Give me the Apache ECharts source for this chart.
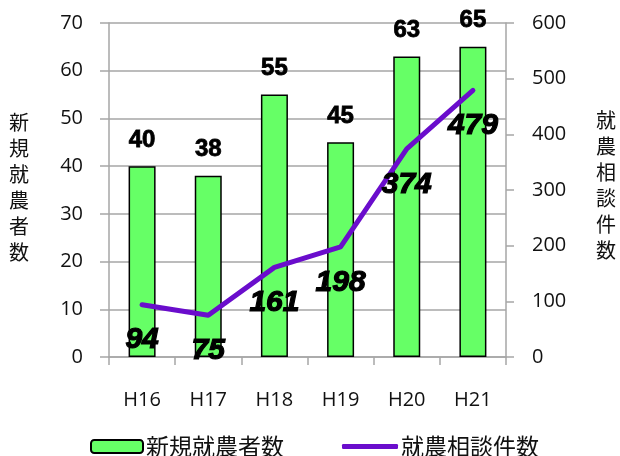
<!DOCTYPE html>
<html>
<head>
<meta charset="utf-8">
<script src="https://cdn.jsdelivr.net/npm/echarts@6/dist/echarts.min.js"></script>
<style>
  html, body { margin: 0; padding: 0; background: #fff; }
  #chart { width: 620px; height: 456px; }
</style>
</head>
<body>
<div id="chart"></div>
<script>
// Fiscal years (Heisei era)
const years = ['H16', 'H17', 'H18', 'H19', 'H20', 'H21'];
// New farmers per year (bars, left axis)
const newFarmers = [40, 38, 55, 45, 63, 65];
// Farming consultations per year (line, right axis)
const consultations = [94, 75, 161, 198, 374, 479];
// Axis tick settings
const leftTicks = { min: 0, max: 70, interval: 10 };
const rightTicks = { min: 0, max: 600, interval: 100 };

const barName = '新規就農者数';
const lineName = '就農相談件数';

const baseFont = '"Open Sans", "Noto Sans", sans-serif';
const cjkFont = '"Noto Sans CJK JP", "Noto Sans CJK SC", sans-serif';
const gray = '#A6A6A6';
const textColor = '#111';

const chart = echarts.init(document.getElementById('chart'));

chart.setOption({
  animation: false,
  backgroundColor: '#fff',
  grid: { left: 109, right: 114, top: 23, bottom: 99, containLabel: false },
  legend: [
    {
      data: [barName],
      left: 85, top: 430,
      itemWidth: 52, itemHeight: 13, itemGap: 6,
      textStyle: { fontSize: 23, color: textColor, fontFamily: cjkFont, padding: [0, 0, 0, -2] }
    },
    {
      data: [{ name: lineName, icon: 'roundRect' }],
      left: 337, top: 430,
      itemWidth: 56, itemHeight: 5, itemGap: 6,
      textStyle: { fontSize: 23, color: textColor, fontFamily: cjkFont, padding: [0, 0, 0, -2] }
    }
  ],
  xAxis: {
    type: 'category',
    data: years,
    boundaryGap: true,
    axisLine: { show: true, lineStyle: { color: gray, width: 1.5 } },
    axisTick: { show: true, length: 8, lineStyle: { color: gray, width: 1.5 } },
    axisLabel: { margin: 33, fontSize: 20, color: textColor, fontFamily: baseFont }
  },
  yAxis: [
    {
      type: 'value',
      min: leftTicks.min, max: leftTicks.max, interval: leftTicks.interval,
      axisLine: { show: true, lineStyle: { color: gray, width: 1.5 } },
      axisTick: { show: true, length: 9, lineStyle: { color: gray, width: 1.5 } },
      splitLine: { show: true, lineStyle: { color: gray, width: 1.5 } },
      axisLabel: { margin: 26, fontSize: 20, color: textColor, fontFamily: baseFont }
    },
    {
      type: 'value',
      min: rightTicks.min, max: rightTicks.max, interval: rightTicks.interval,
      position: 'right',
      axisLine: { show: true, lineStyle: { color: gray, width: 1.5 } },
      axisTick: { show: true, length: 8, lineStyle: { color: gray, width: 1.5 } },
      splitLine: { show: false },
      axisLabel: { margin: 26, fontSize: 20, color: textColor, fontFamily: baseFont }
    }
  ],
  graphic: [
    {
      type: 'text', left: 9, top: 109,
      style: {
        text: '新\n規\n就\n農\n者\n数',
        fontSize: 20, lineHeight: 26, fill: textColor, fontFamily: cjkFont, align: 'center'
      }
    },
    {
      type: 'text', left: 596, top: 107,
      style: {
        text: '就\n農\n相\n談\n件\n数',
        fontSize: 20, lineHeight: 26, fill: textColor, fontFamily: cjkFont, align: 'center'
      }
    }
  ],
  series: [
    {
      name: barName,
      type: 'bar',
      yAxisIndex: 0,
      data: newFarmers,
      barWidth: 27,
      itemStyle: { color: '#66FF66', borderColor: '#000', borderWidth: 1.5 },
      label: {
        show: true, position: 'top', distance: 14,
        fontSize: 24, fontWeight: 'bold', color: '#000',
        textBorderColor: '#000', textBorderWidth: 0.8,
        fontFamily: '"Liberation Sans", Arial, sans-serif'
      },
      z: 2
    },
    {
      name: lineName,
      type: 'line',
      yAxisIndex: 1,
      data: consultations,
      symbol: 'circle',
      symbolSize: 1,
      itemStyle: { color: '#6A0DCC' },
      lineStyle: { color: '#6A0DCC', width: 5, cap: 'round', join: 'round' },
      label: {
        show: true, position: 'bottom', distance: 20,
        fontSize: 30, fontWeight: 'bold', fontStyle: 'italic', color: '#000',
        textBorderColor: '#000', textBorderWidth: 1.2,
        fontFamily: '"Liberation Sans", Arial, sans-serif'
      },
      z: 3
    }
  ]
});
</script>
</body>
</html>
